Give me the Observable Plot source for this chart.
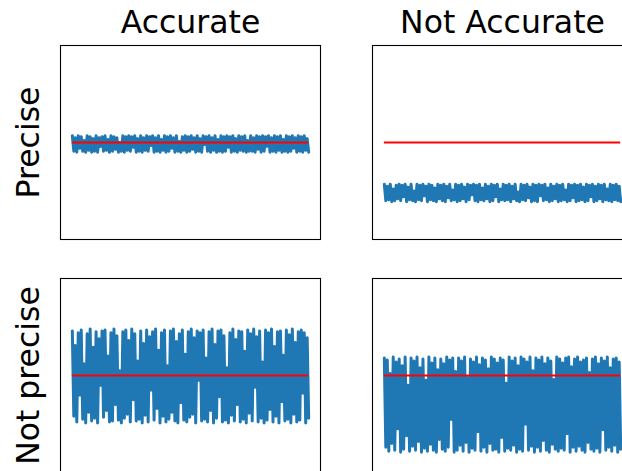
<!DOCTYPE html>
<html>
<head>
<meta charset="utf-8">
<script src="https://cdn.jsdelivr.net/npm/d3@7"></script>
<script src="https://cdn.jsdelivr.net/npm/@observablehq/plot@0.6"></script>
<style>
  html, body { margin: 0; padding: 0; background: white; overflow: hidden; }
</style>
</head>
<body>
<div id="chart"></div>
<script>
// Column and row headings of the 2x2 grid
const columns = ["Accurate", "Not Accurate"];
const rows = ["Precise", "Not precise"];

// The true value every measurement series is aiming at
const trueValue = 0;

// Measurements: accurate and precise
const accuratePrecise = [
  0.07,-0.09,0.05,-0.10,0.07,-0.06,0.06,-0.09,0.02,-0.10,
  0.07,-0.08,0.06,-0.10,0.04,-0.09,0.07,-0.10,0.05,-0.04,
  0.06,-0.09,0.07,-0.08,0.03,-0.10,0.07,-0.09,0.06,-0.07,
  0.05,-0.10,0.00,-0.09,0.07,-0.10,0.06,-0.08,0.07,-0.09,
  0.06,-0.05,0.07,-0.10,0.04,-0.09,0.07,-0.10,0.05,-0.08,
  0.07,-0.09,0.06,-0.03,0.07,-0.10,0.05,-0.09,0.07,-0.10,
  0.03,-0.08,0.07,-0.10,0.06,-0.09,0.07,-0.06,0.05,-0.10,
  0.07,-0.09,0.01,-0.10,0.06,-0.08,0.07,-0.10,0.06,-0.09,
  0.07,-0.07,0.05,-0.10,0.07,-0.09,0.04,-0.10,0.07,-0.02,
  0.06,-0.09,0.07,-0.10,0.05,-0.08,0.07,-0.10,0.03,-0.09,
  0.07,-0.10,0.06,-0.09,0.07,-0.05,0.06,-0.10,0.07,-0.09,
  0.04,-0.10,0.07,-0.08,0.06,-0.09,0.07,-0.10,0.02,-0.09,
  0.07,-0.09,0.05,-0.10,0.07,-0.07,0.06,-0.10,0.07,-0.09,
  0.06,-0.04,0.07,-0.10,0.05,-0.09,0.07,-0.10,0.06,-0.08,
  0.07,-0.10,0.03,-0.09,0.07,-0.10,0.06,-0.09,0.07,-0.06,
  0.05,-0.10,0.07,-0.09,0.06,-0.10,0.07,-0.08,0.04,-0.10
];

// Measurements: precise but biased low
const inaccuratePrecise = [
  -0.43,-0.60,-0.45,-0.59,-0.43,-0.61,-0.48,-0.60,-0.44,-0.58,
  -0.43,-0.60,-0.44,-0.56,-0.43,-0.61,-0.46,-0.59,-0.43,-0.60,
  -0.50,-0.61,-0.43,-0.59,-0.44,-0.60,-0.43,-0.55,-0.45,-0.61,
  -0.43,-0.59,-0.44,-0.60,-0.47,-0.61,-0.43,-0.58,-0.44,-0.60,
  -0.43,-0.61,-0.45,-0.57,-0.43,-0.60,-0.49,-0.59,-0.43,-0.61,
  -0.44,-0.60,-0.43,-0.58,-0.46,-0.61,-0.43,-0.59,-0.44,-0.54,
  -0.43,-0.60,-0.44,-0.61,-0.43,-0.59,-0.47,-0.60,-0.43,-0.58,
  -0.45,-0.61,-0.43,-0.60,-0.44,-0.56,-0.43,-0.61,-0.48,-0.59,
  -0.43,-0.60,-0.44,-0.59,-0.43,-0.61,-0.45,-0.58,-0.43,-0.60,
  -0.51,-0.61,-0.43,-0.59,-0.44,-0.60,-0.43,-0.57,-0.46,-0.61,
  -0.43,-0.60,-0.44,-0.61,-0.43,-0.55,-0.44,-0.60,-0.43,-0.59,
  -0.47,-0.61,-0.43,-0.60,-0.45,-0.58,-0.43,-0.61,-0.44,-0.60,
  -0.43,-0.59,-0.49,-0.61,-0.43,-0.60,-0.44,-0.57,-0.43,-0.61,
  -0.44,-0.60,-0.43,-0.59,-0.46,-0.61,-0.43,-0.60,-0.44,-0.56,
  -0.43,-0.61,-0.45,-0.60,-0.43,-0.58,-0.44,-0.61,-0.43,-0.59,
  -0.48,-0.60,-0.43,-0.61,-0.44,-0.59,-0.43,-0.60,-0.45,-0.61
];

// Measurements: centred on the true value but widely scattered
const accurateImprecise = [
  0.46,-0.42,0.31,-0.48,0.44,-0.20,0.47,-0.45,0.12,-0.49,
  0.43,-0.38,0.48,-0.47,0.29,-0.44,0.45,-0.49,0.38,-0.10,
  0.46,-0.43,0.47,-0.36,0.20,-0.48,0.44,-0.47,0.48,-0.30,
  0.41,-0.46,0.05,-0.49,0.45,-0.44,0.47,-0.40,0.36,-0.48,
  0.48,-0.25,0.43,-0.47,0.15,-0.45,0.46,-0.49,0.33,-0.41,
  0.47,-0.48,0.40,-0.15,0.45,-0.46,0.48,-0.34,0.26,-0.49,
  0.44,-0.42,0.47,-0.48,0.10,-0.45,0.46,-0.38,0.48,-0.47,
  0.35,-0.49,0.43,-0.28,0.47,-0.46,0.22,-0.48,0.45,-0.43,
  0.48,-0.40,0.39,-0.49,0.46,-0.05,0.44,-0.47,0.47,-0.45,
  0.18,-0.48,0.45,-0.36,0.48,-0.49,0.32,-0.44,0.46,-0.22,
  0.47,-0.48,0.41,-0.46,0.08,-0.49,0.44,-0.41,0.48,-0.47,
  0.37,-0.30,0.46,-0.48,0.45,-0.45,0.25,-0.49,0.47,-0.39,
  0.43,-0.47,0.48,-0.12,0.40,-0.48,0.46,-0.44,0.14,-0.49,
  0.47,-0.46,0.44,-0.35,0.48,-0.48,0.30,-0.42,0.45,-0.49,
  0.46,-0.27,0.21,-0.47,0.47,-0.45,0.42,-0.49,0.48,-0.40,
  0.34,-0.48,0.45,-0.46,0.47,-0.18,0.44,-0.49,0.39,-0.44
];

// Measurements: biased low and widely scattered
const inaccurateImprecise = [
  0.18,-0.74,0.16,-0.78,0.02,-0.70,0.19,-0.77,0.14,-0.55,
  0.17,-0.79,0.10,-0.76,0.19,-0.62,-0.10,-0.78,0.18,-0.73,
  0.15,-0.77,0.19,-0.68,0.08,-0.79,0.17,-0.75,-0.05,-0.78,
  0.19,-0.71,0.13,-0.77,0.18,-0.79,0.06,-0.66,0.17,-0.76,
  0.12,-0.78,0.19,-0.74,0.16,-0.45,0.18,-0.79,0.04,-0.77,
  0.18,-0.72,0.15,-0.78,0.19,-0.69,-0.02,-0.79,0.17,-0.75,
  0.14,-0.77,0.19,-0.58,0.11,-0.78,0.18,-0.74,0.16,-0.79,
  0.07,-0.70,0.19,-0.77,0.17,-0.76,0.13,-0.79,0.18,-0.64,
  0.16,-0.78,-0.08,-0.75,0.19,-0.77,0.15,-0.72,0.18,-0.79,
  0.10,-0.76,0.19,-0.78,0.17,-0.50,0.14,-0.77,0.19,-0.73,
  0.05,-0.79,0.18,-0.74,0.16,-0.78,0.19,-0.67,0.12,-0.77,
  0.18,-0.79,0.15,-0.71,-0.04,-0.76,0.19,-0.78,0.17,-0.75,
  0.13,-0.77,0.18,-0.60,0.19,-0.79,0.09,-0.74,0.17,-0.78,
  0.19,-0.73,0.14,-0.77,0.16,-0.79,0.18,-0.69,0.03,-0.76,
  0.17,-0.78,0.19,-0.75,0.12,-0.79,0.18,-0.56,0.15,-0.77,
  0.19,-0.74,0.08,-0.78,0.17,-0.72,0.18,-0.79,0.14,-0.76
];

// One long table: each series tagged with its column and row
const series = [
  {col: columns[0], row: rows[0], values: accuratePrecise},
  {col: columns[1], row: rows[0], values: inaccuratePrecise},
  {col: columns[0], row: rows[1], values: accurateImprecise},
  {col: columns[1], row: rows[1], values: inaccurateImprecise}
];
const table = series.flatMap(s => s.values.map((v, i) => ({col: s.col, row: s.row, i, v})));

const n = accuratePrecise.length;
const pad = 0.05 * (n - 1);

const colHeads = columns.map(c => ({col: c, row: rows[0], label: c}));
const rowHeads = rows.map(r => ({col: columns[0], row: r, label: r}));

const chart = Plot.plot({
  width: 622,
  height: 471,
  marginTop: 45,
  marginLeft: 60,
  marginRight: -10,
  marginBottom: -1,
  style: {fontFamily: "DejaVu Sans", background: "white", overflow: "hidden"},
  x: {axis: null, domain: [-pad, n - 1 + pad]},
  y: {axis: null, domain: [-1, 1]},
  fx: {axis: null, domain: columns, paddingInner: 52 / 312, paddingOuter: 0},
  fy: {axis: null, domain: rows, paddingInner: 39 / 233, paddingOuter: 0},
  marks: [
    Plot.line(table, {x: "i", y: "v", fx: "col", fy: "row", stroke: "#1f77b4",
      strokeWidth: 3, strokeLinejoin: "round"}),
    Plot.ruleY([trueValue], {x1: 0, x2: n - 1, stroke: "#ff0000", strokeWidth: 2}),
    Plot.frame({stroke: "black", strokeWidth: 1.1}),
    Plot.text(colHeads, {fx: "col", fy: "row", text: "label", frameAnchor: "top",
      lineAnchor: "bottom", dy: -13, fontSize: 31.5, fill: "black"}),
    Plot.text(rowHeads, {fx: "col", fy: "row", text: "label", frameAnchor: "left",
      textAnchor: "middle", lineAnchor: "bottom", rotate: -90, dx: -22,
      fontSize: 31.5, fill: "black"})
  ]
});
document.getElementById("chart").appendChild(chart);
</script>
</body>
</html>
